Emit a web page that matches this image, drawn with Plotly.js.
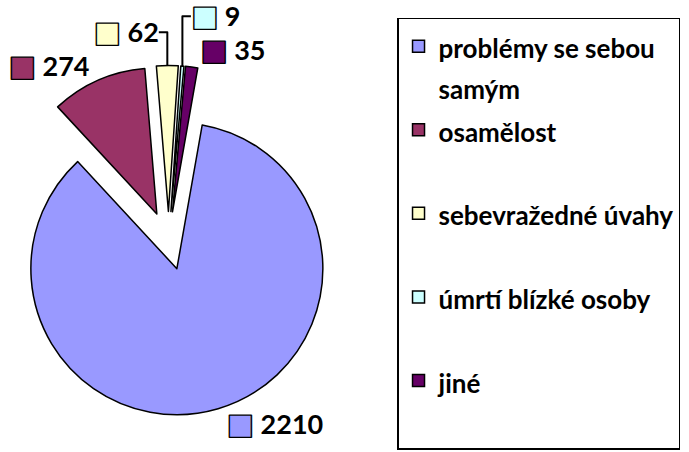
<!DOCTYPE html>
<html>
<head>
<meta charset="utf-8">
<script src="https://cdn.plot.ly/plotly-3.0.1.min.js"></script>
<style>
html,body{margin:0;padding:0;background:#fff;overflow:hidden;}
#chart{position:absolute;left:-11px;top:0;width:700px;height:452px;}
</style>
</head>
<body>
<div id="chart"></div>
<script>
// Data
var categories = ["problémy se sebou samým", "osamělost", "sebevražedné úvahy", "úmrtí blízké osoby", "jiné"];
var values = [2210, 274, 62, 9, 35];
var colors = ["#9999FF", "#993366", "#FFFFCC", "#CCFFFF", "#660066"];
var pulls = [0.2, 0.2, 0.2, 0.2, 0.2];

// legend labels (line breaks for wrapping/spacing)
var legendLabels = [
  "problémy se sebou<br>samým",
  "osamělost<br> ",
  "sebevražedné úvahy<br> ",
  "úmrtí blízké osoby<br> ",
  "jiné<br> "
].map(function(s){
  return s.split("<br>").map(function(l){ return "<span style='font-size:26px'>" + l + "</span>"; }).join("<br>");
});

var templates = colors.map(function(c){
  return "<span style='font-family:DejaVu Sans;font-size:29px;fill:" + c + ";stroke:#000;stroke-width:1.4px'>■</span> %{value:d}";
});

var trace = {
  type: "pie",
  labels: legendLabels,
  values: values,
  sort: false,
  direction: "clockwise",
  rotation: 10,
  pull: pulls,
  marker: {colors: colors, line: {color: "#000", width: 1.5}},
  texttemplate: templates,
  textposition: "outside",
  textfont: {family: "Lato", size: 27, color: "#000", weight: "bold"},
  hoverinfo: "none",
  domain: {x: [0.0063, 0.5069], y: [0.0799, 0.8551]}
};

var layout = {
  width: 700,
  height: 452,
  margin: {l: 0, r: 0, t: 0, b: 0},
  paper_bgcolor: "#fff",
  showlegend: true,
  legend: {
    x: 0.5829, xanchor: "left",
    y: 0.9602, yanchor: "top",
    bordercolor: "#000",
    borderwidth: 1.5,
    valign: "top",
    font: {family: "Lato", size: 31, color: "#000", weight: "bold"}
  }
};

Plotly.newPlot("chart", [trace], layout, {staticPlot: true});
</script>
</body>
</html>
